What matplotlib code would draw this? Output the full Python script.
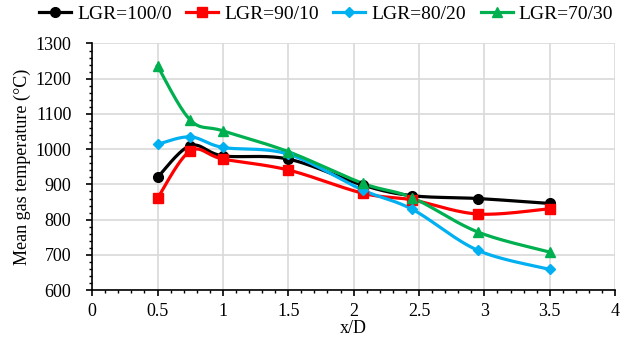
import numpy as np
import matplotlib
matplotlib.use('Agg')
import matplotlib.pyplot as plt
from matplotlib.ticker import MultipleLocator, FormatStrFormatter

plt.rcParams['font.family'] = ['Liberation Serif', 'DejaVu Serif']

x = [0.5, 0.75, 1.0, 1.5, 2.07, 2.45, 2.95, 3.5]
lgr_100_0 = [920, 1010, 981, 972, 898, 868, 860, 846]
lgr_90_10 = [861, 995, 972, 941, 875, 856, 816, 831]
lgr_80_20 = [1014, 1035, 1005, 986, 884, 829, 713, 659]
lgr_70_30 = [1236, 1083, 1052, 993, 903, 862, 765, 708]
labels = ['LGR=100/0', 'LGR=90/10', 'LGR=80/20', 'LGR=70/30']


def smooth(xs, ys, n=30, t=1/6):
    # excel-like smoothed line: bezier segments through the points
    xs = np.asarray(xs, float)
    ys = np.asarray(ys, float)
    px, py = [], []
    for i in range(len(xs) - 1):
        i0 = max(i - 1, 0)
        i3 = min(i + 2, len(xs) - 1)
        c1x = xs[i] + (xs[i + 1] - xs[i0]) * t
        c1y = ys[i] + (ys[i + 1] - ys[i0]) * t
        c2x = xs[i + 1] - (xs[i3] - xs[i]) * t
        c2y = ys[i + 1] - (ys[i3] - ys[i]) * t
        s = np.linspace(0, 1, n)
        bx = (1-s)**3*xs[i] + 3*(1-s)**2*s*c1x + 3*(1-s)*s**2*c2x + s**3*xs[i+1]
        by = (1-s)**3*ys[i] + 3*(1-s)**2*s*c1y + 3*(1-s)*s**2*c2y + s**3*ys[i+1]
        px.extend(bx)
        py.extend(by)
    return px, py


fig = plt.figure(figsize=(6.27, 3.45), dpi=100)
ax = fig.add_axes([0.147, 0.159, 0.834, 0.715])

series = [lgr_100_0, lgr_90_10, lgr_80_20, lgr_70_30]
colors = ['black', '#FF0000', '#00B0F0', '#00B050']
markers = ['o', 's', 'D', '^']
msizes = [7, 7, 5.5, 7.5]
handles = []
for ys, c, m, ms, lab in zip(series, colors, markers, msizes, labels):
    sx, sy = smooth(x, ys)
    ax.plot(sx, sy, color=c, lw=2.3, zorder=3)
    ax.plot(x, ys, ls='none', marker=m, ms=ms, color=c, zorder=4)
    h, = ax.plot([], [], color=c, lw=2.3, marker=m, ms=ms, label=lab)
    handles.append(h)

ax.set_xlim(0, 4)
ax.set_ylim(600, 1300)
ax.xaxis.set_major_locator(MultipleLocator(0.5))
ax.xaxis.set_minor_locator(MultipleLocator(0.1))
ax.xaxis.set_major_formatter(FormatStrFormatter('%g'))
ax.yaxis.set_major_locator(MultipleLocator(100))
ax.yaxis.set_minor_locator(MultipleLocator(20))
ax.grid(True, which='major', color='#d9d9d9', lw=1.2, zorder=0)
ax.set_axisbelow(True)
for s in ['top', 'right']:
    ax.spines[s].set_visible(False)
for s in ['left', 'bottom']:
    ax.spines[s].set_linewidth(1.2)
ax.tick_params(which='major', direction='out', length=4, width=1.2, labelsize=13)
ax.tick_params(which='minor', direction='out', length=2.5, width=1)
ax.tick_params(axis='x', which='major', pad=5)
ax.tick_params(axis='y', which='major', pad=11)

ax.set_xlabel('x/D', fontsize=13, labelpad=0)
ax.set_ylabel('Mean gas temperature (°C)', fontsize=13, labelpad=3)

fig.legend(handles=handles, loc='center', bbox_to_anchor=(0.52, 0.96), ncol=4,
           frameon=False, fontsize=14, handlelength=1.65, handletextpad=0.3,
           columnspacing=0.75, borderaxespad=0)

fig.savefig('out.png', dpi=100)
